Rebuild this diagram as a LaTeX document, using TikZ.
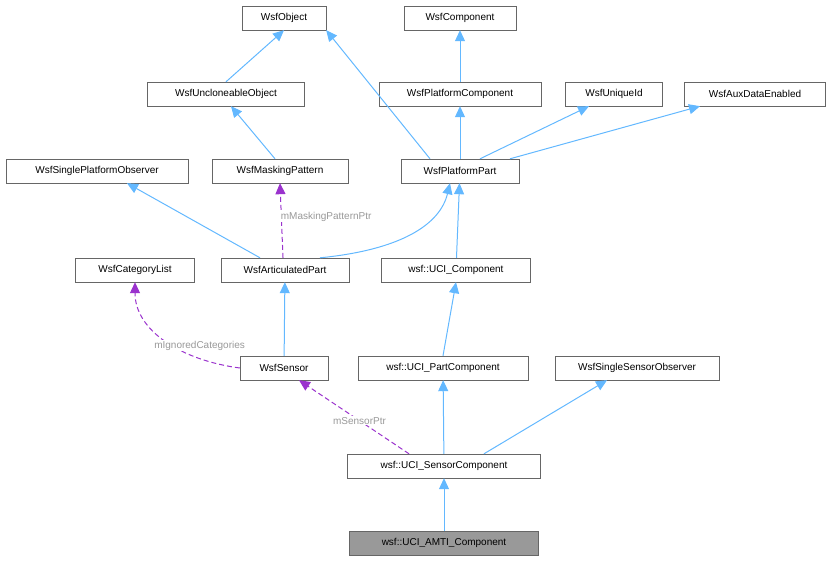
\documentclass[tikz,border=0pt]{standalone}
\usepackage{fontspec}
\setmainfont{Liberation Sans}
\usetikzlibrary{arrows.meta}
\definecolor{inhc}{RGB}{99,184,255}
\definecolor{usec}{RGB}{154,50,205}
\begin{document}
\begin{tikzpicture}[x=1pt,y=-1pt,
 box/.style={draw=black!60,fill=white,minimum height=24pt,inner sep=0pt,font=\fontsize{10}{11}\selectfont},
 inh/.style={draw=inhc,line width=1pt,-{Triangle[length=11pt,width=10pt,fill=inhc]}},
 use/.style={draw=usec,line width=1pt,dash pattern=on 5pt off 3pt,-{Triangle[length=11pt,width=10pt,fill=usec]}},
 lab/.style={text=black!40,font=\fontsize{10}{11}\selectfont,fill=white,inner sep=1pt}]
\useasboundingbox (0,0) rectangle (835,561);
\node[box,minimum width=84pt] (obj) at (284,18) {WsfObject};
\node[box,minimum width=112pt] (comp) at (460,18) {WsfComponent};
\node[box,minimum width=157pt] (uncl) at (226,94) {WsfUncloneableObject};
\node[box,minimum width=162pt] (pcomp) at (460,94) {WsfPlatformComponent};
\node[box,minimum width=97pt] (uid) at (614,94) {WsfUniqueId};
\node[box,minimum width=141pt] (aux) at (755,94) {WsfAuxDataEnabled};
\node[box,minimum width=182pt] (spo) at (97,171) {WsfSinglePlatformObserver};
\node[box,minimum width=136pt] (mask) at (280,171) {WsfMaskingPattern};
\node[box,minimum width=118pt] (ppart) at (460,171) {WsfPlatformPart};
\node[box,minimum width=119pt] (cat) at (135,270) {WsfCategoryList};
\node[box,minimum width=128pt] (art) at (285,270) {WsfArticulatedPart};
\node[box,minimum width=149pt] (ucic) at (456,270) {wsf::UCI\_Component};
\node[box,minimum width=88pt] (sens) at (284,368) {WsfSensor};
\node[box,minimum width=170pt] (ucip) at (443,368) {wsf::UCI\_PartComponent};
\node[box,minimum width=164pt] (sso) at (637,368) {WsfSingleSensorObserver};
\node[box,minimum width=193pt] (ucis) at (444,466) {wsf::UCI\_SensorComponent};
\node[box,minimum width=189pt,fill=black!40] (amti) at (444,543) {wsf::UCI\_AMTI\_Component};

\draw[inh] (uncl.north) -- (obj.south);
\draw[inh] ([xshift=-30pt]ppart.north) -- (obj.south east);
\draw[inh] (pcomp) -- (comp);
\draw[inh] (ppart) -- (pcomp);
\draw[inh] ([xshift=20pt]ppart.north) -- ([xshift=-25pt]uid.south);
\draw[inh] ([xshift=50pt]ppart.north) -- ([xshift=-55pt]aux.south);
\draw[inh] ([xshift=-5pt]mask.north) -- ([xshift=5pt]uncl.south);
\draw[inh] ([xshift=-25pt]art.north) -- ([xshift=30pt]spo.south);
\draw[inh] ([xshift=35pt]art.north) .. controls (400,250) and (440,225) .. ([xshift=-10pt]ppart.south);
\draw[inh] (ucic) -- (ppart);
\draw[inh] (sens) -- (art);
\draw[inh] (ucip.north) -- (ucic.south);
\draw[inh] (ucis) -- (ucip);
\draw[inh] ([xshift=40pt]ucis.north) -- ([xshift=-30pt]sso.south);
\draw[inh] (amti) -- (ucis);

\draw[use] ([xshift=-2pt]art.north) -- node[lab,right,xshift=-2pt,pos=0.55]{mMaskingPatternPtr} (mask.south);
\draw[use] (sens.west) .. controls (180,360) and (135,330) .. node[lab,pos=0.55,xshift=40pt,yshift=-10pt]{mIgnoredCategories} (cat.south);
\draw[use] ([xshift=-35pt]ucis.north) -- node[lab,pos=0.45]{mSensorPtr} ([xshift=15pt]sens.south);
\end{tikzpicture}
\end{document}
